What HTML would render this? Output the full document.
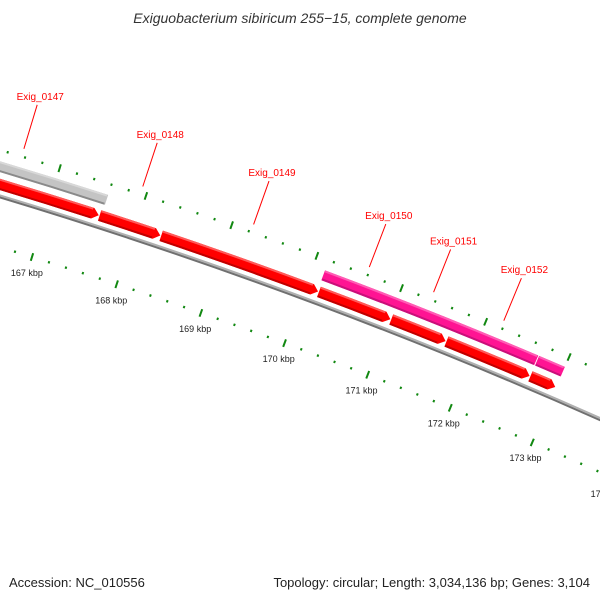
<!DOCTYPE html>
<html><head><meta charset="utf-8"><style>
html,body{margin:0;padding:0;background:#fff;}
svg{display:block;font-family:"Liberation Sans",sans-serif;}
</style></head><body>
<svg id="map" width="600" height="600" viewBox="0 0 600 600" xmlns="http://www.w3.org/2000/svg">
<rect width="600" height="600" fill="#fff"/>
<text x="300" y="23" text-anchor="middle" font-size="14" font-style="italic" fill="#333">Exiguobacterium sibiricum 255−15, complete genome</text>
<g id="plot"></g>
<text x="9" y="587" font-size="13" fill="#222">Accession: NC_010556</text>
<text x="590" y="587" text-anchor="end" font-size="13" fill="#222">Topology: circular; Length: 3,034,136 bp; Genes: 3,104</text>
</svg>
<script>
const geneStarts = [165.55, 167.58, 168.30, 170.16, 171.02, 171.68, 172.69];
const geneEnds   = [167.57, 168.29, 170.15, 171.01, 171.67, 172.68, 172.99];
const geneNames  = ['Exig_0147','Exig_0148','Exig_0149','Exig_0150','Exig_0151','Exig_0152',''];
const otherStarts = [164.0, 170.14, 172.69];
const otherEnds   = [167.60, 172.68, 173.00];
const otherColors = ['#c4c4c4', '#ff1493', '#ff1493'];
const tickStart = 164, tickEnd = 176, tickStep = 0.2;

const CX = -1478, CY = 5099;
const NS = 'http://www.w3.org/2000/svg';
const plot = document.getElementById('plot');
function ang(kbp){ return (17.32 + (kbp - 167) * 1.005) * Math.PI / 180; }
function pt(kbp, r){ const a = ang(kbp); return [CX + r*Math.sin(a), CY - r*Math.cos(a)]; }
function f(p){ return p[0].toFixed(2)+' '+p[1].toFixed(2); }
function mk(tag, attrs){ const e = document.createElementNS(NS, tag); for (const k in attrs) e.setAttribute(k, attrs[k]); plot.appendChild(e); return e; }
function arcPath(a, b, r){ return 'M'+f(pt(a,r))+' A'+r+' '+r+' 0 0 1 '+f(pt(b,r)); }

// backbone
let bb = mk('path', {d: arcPath(tickStart, tickEnd, 5121.5), stroke:'#b0b0b0', 'stroke-width':2, fill:'none'});


let bb2 = mk('path', {d: arcPath(tickStart, tickEnd, 5119.5), stroke:'#707070', 'stroke-width':2, fill:'none'});



// ticks
const n = Math.round((tickEnd - tickStart) / tickStep);
for (let i = 0; i <= n; i++) {
  const k = tickStart + i * tickStep;
  const major = Math.abs(k - Math.round(k)) < 1e-6;
  [5072, 5165].forEach(function(rc, ri){
    const h = major ? 4 : 1.2;
    const t = mk('path', {d: 'M'+f(pt(k, rc-h))+' L'+f(pt(k, rc+h)), stroke:'#118811', 'stroke-width':2});
    
    
  });
  if (major) {
    const p = pt(k, 5055);
    const lb = mk('text', {x:p[0].toFixed(1), y:(p[1]+3).toFixed(1), 'text-anchor':'middle', 'font-size':9, fill:'#222'});
    lb.textContent = Math.round(k) + ' kbp';
    
    
  }
}

function feature(a, b, r, w, color, dark, light, arrow, name){
  const ro = r + w/2, ri = r - w/2;
  const head = arrow ? 0.07 : 0;
  const hb = b - head;
  let d = 'M'+f(pt(a,ro))+' A'+ro+' '+ro+' 0 0 1 '+f(pt(hb,ro));
  if (arrow) d += ' L'+f(pt(b,r))+' L'+f(pt(hb,ri));
  else d += ' L'+f(pt(b,ri));
  d += ' A'+ri+' '+ri+' 0 0 0 '+f(pt(a,ri))+' Z';
  const g = mk('g', {});
  
  
  const base = document.createElementNS(NS,'path');
  base.setAttribute('d', d); base.setAttribute('fill', color);
  g.appendChild(base);
  const hl = document.createElementNS(NS,'path');
  hl.setAttribute('d', arcPath(a+0.005, hb-0.01, ro-1)); hl.setAttribute('stroke', light); hl.setAttribute('stroke-width', 2); hl.setAttribute('fill','none');
  g.appendChild(hl);
  const sh = document.createElementNS(NS,'path');
  sh.setAttribute('d', arcPath(a+0.005, hb-0.01, ri+1)); sh.setAttribute('stroke', dark); sh.setAttribute('stroke-width', 2); sh.setAttribute('fill','none');
  g.appendChild(sh);
}

for (let i = 0; i < otherStarts.length; i++) {
  const c = otherColors[i];
  const gray = c === '#c4c4c4';
  feature(otherStarts[i], otherEnds[i], 5149, 10.5, c, gray ? '#8a8a8a' : '#c8107a', gray ? '#d8d8d8' : '#ff5cb4', false, gray ? 'gray-feature' : 'magenta-feature');
}
for (let i = 0; i < geneStarts.length; i++) {
  feature(geneStarts[i], geneEnds[i], 5132, 11, '#ff0000', '#c00000', '#ff5a5a', true, 'gene-' + (geneNames[i] || 'unlabeled').toLowerCase());
  if (geneNames[i]) {
    const mid = (geneStarts[i] + geneEnds[i]) / 2;
    const p1 = pt(mid, 5173), p2 = pt(mid, 5219);
    const ln = mk('line', {x1:p1[0].toFixed(1), y1:p1[1].toFixed(1), x2:p2[0].toFixed(1), y2:p2[1].toFixed(1), stroke:'#ff0000', 'stroke-width':1});
    
    
    const tx = mk('text', {x:(p2[0]+3).toFixed(1), y:(p2[1]-5).toFixed(1), 'text-anchor':'middle', 'font-size':10, fill:'#ff0000'});
    tx.textContent = geneNames[i];
    
    
  }
}
</script>
</body></html>
